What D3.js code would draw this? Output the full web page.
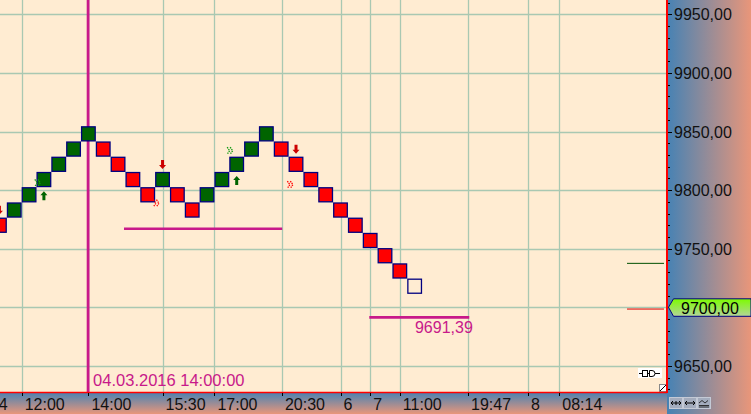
<!DOCTYPE html>
<html><head><meta charset="utf-8">
<script src="https://cdn.jsdelivr.net/npm/d3@7"></script>
<style>html,body{margin:0;padding:0;background:#fff;overflow:hidden}svg{display:block}</style>
</head><body>
<script>
// ---- data ----
const boxSize = 13;
// brick lows (price) in order, and brick type
const brickLow = [9763.5,9776.5,9789.5,9802.5,9815.5,9828.5,9841.5,9828.5,9815.5,9802.5,9789.5,9802.5,9789.5,9776.5,
                  9789.5,9802.5,9815.5,9828.5,9841.5,9828.5,9815.5,9802.5,9789.5,9776.5,9763.5,9750.5,9737.5,9724.5,9711.5];
const brickType = ["down","up","up","up","up","up","up","down","down","down","down","up","down","down",
                   "up","up","up","up","up","down","down","down","down","down","down","down","down","down","open"];
const upArrowBricks = [3, 16];
const downArrowBricks = [0, 11, 20];
const greenChevrons = [[2.59, 9806.1],[15.56, 9833.6]];
const redChevrons = [[10.59, 9788.8],[19.62, 9804.6]];
const priceTicks = [9650, 9700, 9750, 9800, 9850, 9900, 9950];
const timeTickPos = [-0.25, 1.5, 6, 11, 14.5, 19.05, 23, 25, 27, 31.6, 35.65, 37.75];
const timeTickLabels = ["4","12:00","14:00","15:30","17:00","20:30","6","7","11:00","19:47","8","08:14"];
const supportLine = {from: 8.4, to: 19.07, price: 9767};
const targetLine = {from: 24.94, to: 31.68, price: 9691.39, label: "9691,39"};
const markerPos = 5.98, markerLabel = "04.03.2016 14:00:00";
const reversalUp = 9737.5, continueDown = 9698.5;
const lastPrice = 9700, lastPriceLabel = "9700,00";

// ---- layout ----
const W = 751, H = 414, plotW = 667, plotH = 392;
const fmt = v => d3.format(".2f")(v).replace(".", ",");

const x = d3.scaleLinear().domain([0, 44]).range([-0.58, -0.58 + 14.83 * 44]);
const y = d3.scaleLinear().domain([9650, 9950]).range([365.9, 14.3]);
const half = 7.4;

const svg = d3.select("body").append("svg").attr("width", W).attr("height", H)
  .style("font-family", "'Liberation Sans', Arial, sans-serif");
const defs = svg.append("defs");
const gH = defs.append("linearGradient").attr("id", "gh").attr("x1", 0).attr("x2", 1).attr("y1", 0).attr("y2", 0);
gH.append("stop").attr("offset", "0%").attr("stop-color", "#4682b4");
gH.append("stop").attr("offset", "100%").attr("stop-color", "#e9967a");
const gV = defs.append("linearGradient").attr("id", "gv").attr("x1", 0).attr("x2", 0).attr("y1", 0).attr("y2", 1);
gV.append("stop").attr("offset", "0%").attr("stop-color", "#4682b4");
gV.append("stop").attr("offset", "100%").attr("stop-color", "#e9967a");
const gT = defs.append("linearGradient").attr("id", "gt").attr("x1", 0).attr("x2", 0).attr("y1", 0).attr("y2", 1);
gT.append("stop").attr("offset", "0%").attr("stop-color", "#7cfc00");
gT.append("stop").attr("offset", "100%").attr("stop-color", "#b4d49a");
defs.append("clipPath").attr("id", "clip").append("rect").attr("width", plotW).attr("height", plotH);

// panels
svg.append("rect").attr("x", plotW).attr("y", 0).attr("width", W - plotW).attr("height", H).attr("fill", "url(#gh)");
svg.append("rect").attr("x", 0).attr("y", plotH).attr("width", plotW).attr("height", H - plotH).attr("fill", "url(#gv)");

const plot = svg.append("g").attr("clip-path", "url(#clip)");
plot.append("rect").attr("width", plotW).attr("height", plotH).attr("fill", "#ffecd2");

// gridlines
plot.selectAll(".hg").data(priceTicks).join("line")
  .attr("x1", 0).attr("x2", plotW).attr("y1", d => Math.round(y(d)) + 0.5).attr("y2", d => Math.round(y(d)) + 0.5)
  .attr("stroke", "#a9c8b2").attr("stroke-width", 1.3);
plot.selectAll(".vg").data(timeTickPos).join("line")
  .attr("x1", d => Math.round(x(d)) + 0.5).attr("x2", d => Math.round(x(d)) + 0.5).attr("y1", 0).attr("y2", plotH)
  .attr("stroke", "#a9c8b2").attr("stroke-width", 1.3);

const mag = "#c8198a";
// vertical marker
plot.append("line").attr("x1", x(markerPos)).attr("x2", x(markerPos)).attr("y1", 0).attr("y2", plotH)
  .attr("stroke", mag).attr("stroke-width", 2.8);
plot.append("text").attr("x", x(markerPos) + 5).attr("y", 386).attr("fill", mag)
  .attr("font-size", 16.5).text(markerLabel);

// horizontal lines
[supportLine, targetLine].forEach(l => {
  plot.append("line").attr("x1", x(l.from)).attr("x2", x(l.to)).attr("y1", y(l.price)).attr("y2", y(l.price))
    .attr("stroke", mag).attr("stroke-width", 2.6);
});
plot.append("text").attr("x", x(28.02)).attr("y", y(targetLine.price) + 15.5).attr("fill", mag)
  .attr("font-size", 16).text(targetLine.label);

// bricks
const fills = {up: "#006400", down: "#ff0000", open: "none"};
plot.selectAll(".brick").data(brickLow).join("rect")
  .attr("x", (d, i) => x(i) - half + 0.6)
  .attr("y", d => y(d + boxSize) + 0.6)
  .attr("width", 2 * half - 1.2)
  .attr("height", d => y(d) - y(d + boxSize) - 1.2)
  .attr("fill", (d, i) => fills[brickType[i]])
  .attr("stroke", "#000080").attr("stroke-width", 1.3);

// arrows
const upPath = (cx, t) => `M${cx},${t} L${cx+3.5},${t+4} L${cx+1.5},${t+4} L${cx+1.5},${t+9} L${cx-1.5},${t+9} L${cx-1.5},${t+4} L${cx-3.5},${t+4}Z`;
const downPath = (cx, b) => `M${cx},${b} L${cx+3.5},${b-4} L${cx+1.5},${b-4} L${cx+1.5},${b-9} L${cx-1.5},${b-9} L${cx-1.5},${b-4} L${cx-3.5},${b-4}Z`;
plot.selectAll(".ua").data(upArrowBricks).join("path")
  .attr("d", i => upPath(x(i), y(brickLow[i]) + 4)).attr("fill", "#006400");
plot.selectAll(".da").data(downArrowBricks).join("path")
  .attr("d", i => downPath(x(i), y(brickLow[i] + boxSize) - 3)).attr("fill", "#cc0000");

// chevrons
const chev = (cx, cy) => `M${cx-3},${cy-3.5} L${cx-0.5},${cy} L${cx-3},${cy+3.5} M${cx},${cy-3.5} L${cx+2.5},${cy} L${cx},${cy+3.5}`;
plot.selectAll(".gc").data(greenChevrons).join("path")
  .attr("d", d => chev(x(d[0]), y(d[1]))).attr("fill", "none").attr("stroke", "#109a10")
  .attr("stroke-width", 1.3).attr("stroke-dasharray", "1.4,0.8");
plot.selectAll(".rc").data(redChevrons).join("path")
  .attr("d", d => chev(x(d[0]), y(d[1]))).attr("fill", "none").attr("stroke", "#ff0000")
  .attr("stroke-width", 1.3).attr("stroke-dasharray", "1.4,0.8");

// threshold lines near right edge
plot.append("line").attr("x1", 627).attr("x2", 664).attr("y1", y(reversalUp)).attr("y2", y(reversalUp))
  .attr("stroke", "#005000").attr("stroke-width", 1);
plot.append("line").attr("x1", 627).attr("x2", 664).attr("y1", y(continueDown)).attr("y2", y(continueDown))
  .attr("stroke", "#e00000").attr("stroke-width", 1);

// small icon
const ic = plot.append("g");
ic.append("rect").attr("x", 638).attr("y", 368).attr("width", 24).attr("height", 10).attr("fill", "#fff");
ic.append("path").attr("d", "M639,373.5 H642.5 M647.5,373.5 H649.5 M655,373.5 H660")
  .attr("stroke", "#000").attr("stroke-width", 1);
ic.append("rect").attr("x", 642.5).attr("y", 370.5).attr("width", 5).attr("height", 6).attr("fill", "none").attr("stroke", "#000");
ic.append("path").attr("d", "M649.5,370.5 H652 Q655,370.5 655,373.5 Q655,376.5 652,376.5 H649.5 Z")
  .attr("fill", "none").attr("stroke", "#000");
// resize icon
plot.append("rect").attr("x", 659.5).attr("y", 384.5).attr("width", 7).attr("height", 7).attr("fill", "#fff").attr("stroke", "#888");
plot.append("line").attr("x1", 660).attr("y1", 391).attr("x2", 666).attr("y2", 385).attr("stroke", "#000");

// borders
svg.append("line").attr("x1", plotW).attr("x2", plotW).attr("y1", 0).attr("y2", plotH + 1)
  .attr("stroke", "#ff0000").attr("stroke-width", 2);
svg.append("line").attr("x1", 0).attr("x2", plotW).attr("y1", plotH + 0.5).attr("y2", plotH + 0.5)
  .attr("stroke", "#ff0000").attr("stroke-width", 1.3);

// right axis ticks
const minor = d3.range(9630, 9961, 10);
svg.selectAll(".rt").data(minor).join("line")
  .attr("x1", plotW + 1).attr("x2", d => d % 50 === 0 ? plotW + 5 : plotW + 3)
  .attr("y1", d => Math.round(y(d)) + 0.5).attr("y2", d => Math.round(y(d)) + 0.5)
  .attr("stroke", "#000").attr("stroke-width", 1);
svg.selectAll(".rl").data(priceTicks.filter(d => d !== lastPrice)).join("text")
  .attr("x", 674).attr("y", d => y(d) + 6).attr("font-size", 16).attr("fill", "#111").text(fmt);

// last price tag
const ty = y(lastPrice);
svg.append("path").attr("d", `M668.5,${ty} L673.5,${ty-8.5} L751,${ty-8.5} L751,${ty+9} L673.5,${ty+9} Z`)
  .attr("fill", "url(#gt)").attr("stroke", "#000080").attr("stroke-width", 1);
svg.append("text").attr("x", 681).attr("y", ty + 6.5).attr("font-size", 16).attr("fill", "#000").text(lastPriceLabel);

// bottom axis
svg.selectAll(".bt").data(timeTickPos).join("line")
  .attr("x1", d => Math.round(x(d)) + 0.5).attr("x2", d => Math.round(x(d)) + 0.5)
  .attr("y1", plotH + 1).attr("y2", plotH + 4).attr("stroke", "#000");
svg.selectAll(".bl").data(timeTickPos).join("text")
  .attr("x", d => x(d) + 3).attr("y", 410).attr("font-size", 16).attr("fill", "#111")
  .text((d, i) => timeTickLabels[i]);

// corner buttons
const btn = svg.append("g");
[669, 683, 697].forEach((bx, k) => {
  btn.append("rect").attr("x", bx + 0.5).attr("y", 397.5).attr("width", 13).attr("height", 11)
    .attr("fill", "#a3acbd").attr("stroke", "#c4cad6");
  if (k < 2) {
    btn.append("path").attr("d", `M${bx+2},403 H${bx+12} M${bx+4},401 L${bx+2},403 L${bx+4},405 M${bx+10},401 L${bx+12},403 L${bx+10},405` + (k === 0 ? ` M${bx+7},401 V405` : ""))
      .attr("fill", "none").attr("stroke", "#000").attr("stroke-width", 1);
  } else {
    btn.append("path").attr("d", `M${bx+2},403 L${bx+5},400.5 L${bx+8},403 L${bx+11},400.5 M${bx+2},405.5 H${bx+12} M${bx+2},407 H${bx+12}`)
      .attr("fill", "none").attr("stroke", "#222").attr("stroke-width", 0.9);
  }
});
</script>
</body></html>
